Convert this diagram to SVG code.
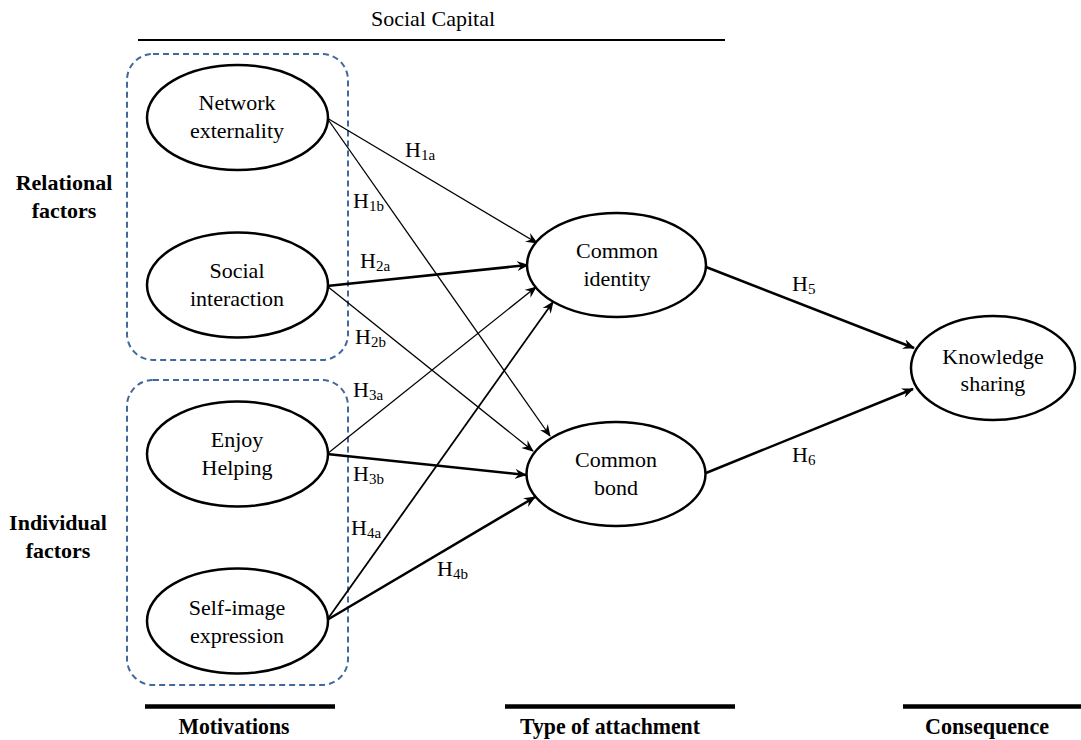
<svg xmlns="http://www.w3.org/2000/svg" width="1081" height="740" viewBox="0 0 1081 740">
<style>
.n{fill:#fff;stroke:#000;stroke-width:2.5}
.t{font-family:"Liberation Serif","Times New Roman",Times,serif;font-size:22px;text-anchor:middle;fill:#000}
.h{font-family:"Liberation Serif","Times New Roman",Times,serif;font-size:22px;fill:#000}
.s{font-size:15px}
.b{font-family:"Liberation Serif","Times New Roman",Times,serif;font-size:22px;font-weight:bold;text-anchor:middle;fill:#000}
.f{font-size:24px}
.grp{fill:none;stroke:#41699b;stroke-width:2;stroke-dasharray:6,4}
.c{stroke:#000;fill:none;stroke-width:1.3;marker-end:url(#a)}
.k{stroke-width:2.5}
.m{stroke-width:1.8}
</style>
<defs>
<marker id="a" viewBox="0 0 12 10" refX="11" refY="5" markerWidth="12" markerHeight="10" markerUnits="userSpaceOnUse" orient="auto">
<path d="M0,0 L12,5 L0,10 L4,5 Z" fill="#000"/>
</marker>
</defs>
<rect width="1081" height="740" fill="#fff"/>
<g id="header">
<text class="t" x="433" y="26">Social Capital</text>
<line x1="138" y1="40" x2="725" y2="40" stroke="#000" stroke-width="2.2"/>
</g>
<g id="groups">
<rect class="grp" x="127" y="54" width="221" height="306" rx="26"/>
<rect class="grp" x="127" y="380" width="221" height="305" rx="26"/>
</g>
<g id="side-labels">
<text class="b" x="64" y="190">Relational</text>
<text class="b" x="64" y="218">factors</text>
<text class="b" x="58" y="530">Individual</text>
<text class="b" x="58" y="558">factors</text>
</g>
<g id="connectors">
<line class="c" x1="327" y1="118" x2="537" y2="243"/>
<line class="c" x1="327" y1="118" x2="550" y2="436"/>
<line class="c k" x1="327" y1="286" x2="528" y2="265"/>
<line class="c" x1="327" y1="286" x2="533" y2="451"/>
<line class="c" x1="327" y1="454" x2="536" y2="287"/>
<line class="c k" x1="327" y1="454" x2="526" y2="475"/>
<line class="c m" x1="327" y1="620" x2="553" y2="302"/>
<line class="c k" x1="327" y1="620" x2="535" y2="497"/>
<line class="c k" x1="706" y1="267" x2="914" y2="348"/>
<line class="c k" x1="706" y1="473" x2="913" y2="389"/>
</g>
<g id="conn-labels">
<text class="h" x="405" y="157">H<tspan class="s" dy="3">1a</tspan></text>
<text class="h" x="353" y="208">H<tspan class="s" dy="3">1b</tspan></text>
<text class="h" x="360" y="268">H<tspan class="s" dy="3">2a</tspan></text>
<text class="h" x="355" y="344">H<tspan class="s" dy="3">2b</tspan></text>
<text class="h" x="353" y="397">H<tspan class="s" dy="3">3a</tspan></text>
<text class="h" x="353" y="481">H<tspan class="s" dy="3">3b</tspan></text>
<text class="h" x="351" y="535">H<tspan class="s" dy="3">4a</tspan></text>
<text class="h" x="437" y="576">H<tspan class="s" dy="3">4b</tspan></text>
<text class="h" x="792" y="291">H<tspan class="s" dy="3">5</tspan></text>
<text class="h" x="792" y="462">H<tspan class="s" dy="3">6</tspan></text>
</g>
<g id="network-externality">
<ellipse class="n" cx="237.5" cy="117.5" rx="90.5" ry="52.5"/>
<text class="t" x="237" y="110">Network</text>
<text class="t" x="237" y="138">externality</text>
</g>
<g id="social-interaction">
<ellipse class="n" cx="237.5" cy="285" rx="90.5" ry="52.5"/>
<text class="t" x="237" y="278">Social</text>
<text class="t" x="237" y="306">interaction</text>
</g>
<g id="enjoy-helping">
<ellipse class="n" cx="237.5" cy="454" rx="90.5" ry="52.5"/>
<text class="t" x="237" y="447">Enjoy</text>
<text class="t" x="237" y="475">Helping</text>
</g>
<g id="self-image">
<ellipse class="n" cx="237.5" cy="621" rx="90.5" ry="52.5"/>
<text class="t" x="237" y="615">Self-image</text>
<text class="t" x="237" y="643">expression</text>
</g>
<g id="common-identity">
<ellipse class="n" cx="616.5" cy="265" rx="89.5" ry="52"/>
<text class="t" x="617" y="258">Common</text>
<text class="t" x="617" y="286">identity</text>
</g>
<g id="common-bond">
<ellipse class="n" cx="616" cy="474" rx="89.5" ry="52"/>
<text class="t" x="616" y="467">Common</text>
<text class="t" x="616" y="495">bond</text>
</g>
<g id="knowledge-sharing">
<ellipse class="n" cx="993" cy="368" rx="82" ry="52"/>
<text class="t" x="993" y="364">Knowledge</text>
<text class="t" x="993" y="391">sharing</text>
</g>
<g id="footer">
<line x1="145" y1="706.5" x2="335" y2="706.5" stroke="#000" stroke-width="4.5"/>
<line x1="505" y1="706.5" x2="735" y2="706.5" stroke="#000" stroke-width="4.5"/>
<line x1="903" y1="706.5" x2="1081" y2="706.5" stroke="#000" stroke-width="4.5"/>
<text class="b f" x="234" y="734" textLength="111" lengthAdjust="spacingAndGlyphs">Motivations</text>
<text class="b f" x="610" y="734" textLength="180" lengthAdjust="spacingAndGlyphs">Type of attachment</text>
<text class="b f" x="987" y="734" textLength="124" lengthAdjust="spacingAndGlyphs">Consequence</text>
</g>
</svg>
